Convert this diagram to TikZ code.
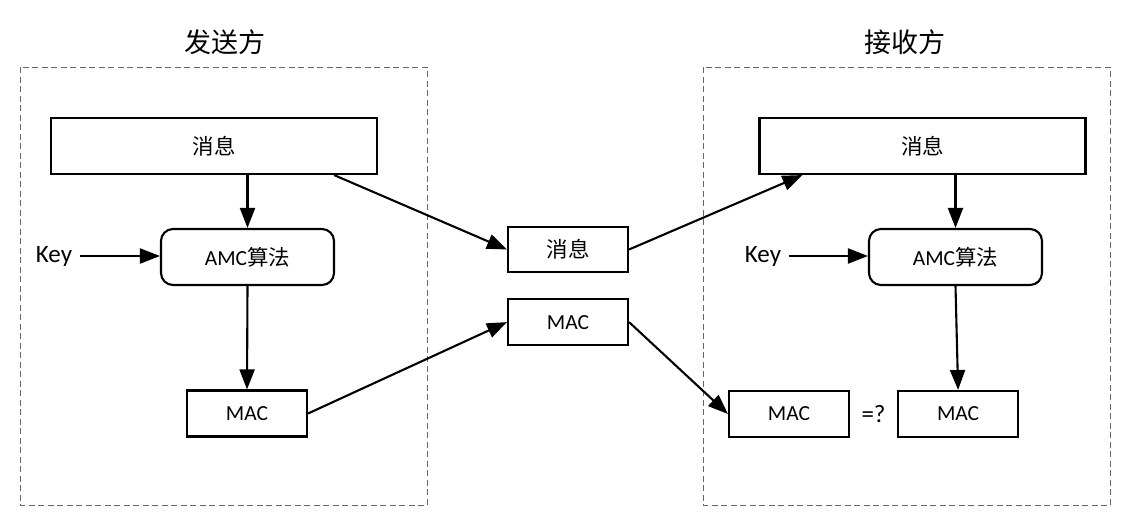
\documentclass[tikz,border=0pt]{standalone}
\usepackage{fontspec}
\setmainfont{Carlito}
\newfontfamily\cjk{Noto Sans CJK SC}
\usetikzlibrary{arrows.meta,positioning,calc}
\tikzset{
  box/.style={draw, line width=2.1pt, inner sep=0pt, align=center, font=\fontsize{21.5}{24}\selectfont},
  wide/.style={box, minimum width=326pt, minimum height=56pt},
  algo/.style={box, rounded corners=12pt, minimum width=173pt, minimum height=56pt},
  mac/.style={box, minimum width=120pt, minimum height=46pt},
  side/.style={draw=black!60, line width=1pt, dash pattern=on 6pt off 3.5pt},
  title/.style={font=\cjk\fontsize{27}{30}\selectfont},
  lab/.style={font=\fontsize{25}{28}\selectfont},
  arrow/.style={-{Triangle[length=20pt,width=15pt]}, line width=2.1pt},
}
\begin{document}
\begin{tikzpicture}[x=1pt, y=-1pt]
\useasboundingbox (0,0) rectangle (1128,525);
% sender side
\draw[side] (20,67) rectangle (427,505);
\node[title] (tsend) at (225,42) {发送方};
\node[wide] (msgL) at (214,146) {\cjk 消息};
\node[algo] (algL) at (247.5,257) {AMC{\cjk 算法}};
\node[mac] (macL) at (247,413.5) {MAC};
\node[lab] (keyL) at (54,256) {Key};
% channel
\node[mac, minimum height=45pt] (msgM) at (568,249.5) {\cjk 消息};
\node[mac, below=25pt of msgM] (macM) {MAC};
% receiver side
\draw[side] (703,67) rectangle (1110,505);
\node[title] (trecv) at (905,42) {接收方};
\node[wide] (msgR) at (922.5,146) {\cjk 消息};
\node[algo] (algR) at (955.5,257) {AMC{\cjk 算法}};
\node[mac] (macR1) at (789,414) {MAC};
\node[mac, right=47pt of macR1] (macR2) {MAC};
\node[lab] (eq) at ($(macR1.east)!0.5!(macR2.west)$) {=?};
\node[lab] (keyR) at (763,256) {Key};

\draw[arrow] (algL.north |- msgL.south) -- (algL.north);
\draw[arrow, shorten <=4pt] (keyL.east) -- (keyL.east -| algL.west);
\draw[arrow] (algL.south) -- (macL.north);
\draw[arrow] ([xshift=-44pt]msgL.south east) -- (msgM.west);
\draw[arrow] (macL.east) -- (macM.west);
\draw[arrow] (msgM.east) -- ([xshift=44pt]msgR.south west);
\draw[arrow] (macM.east) -- (macR1.west);
\draw[arrow] (algR.north |- msgR.south) -- (algR.north);
\draw[arrow, shorten <=4pt] (keyR.east) -- (keyR.east -| algR.west);
\draw[arrow] (algR.south) -- (macR2.north);
\end{tikzpicture}
\end{document}
